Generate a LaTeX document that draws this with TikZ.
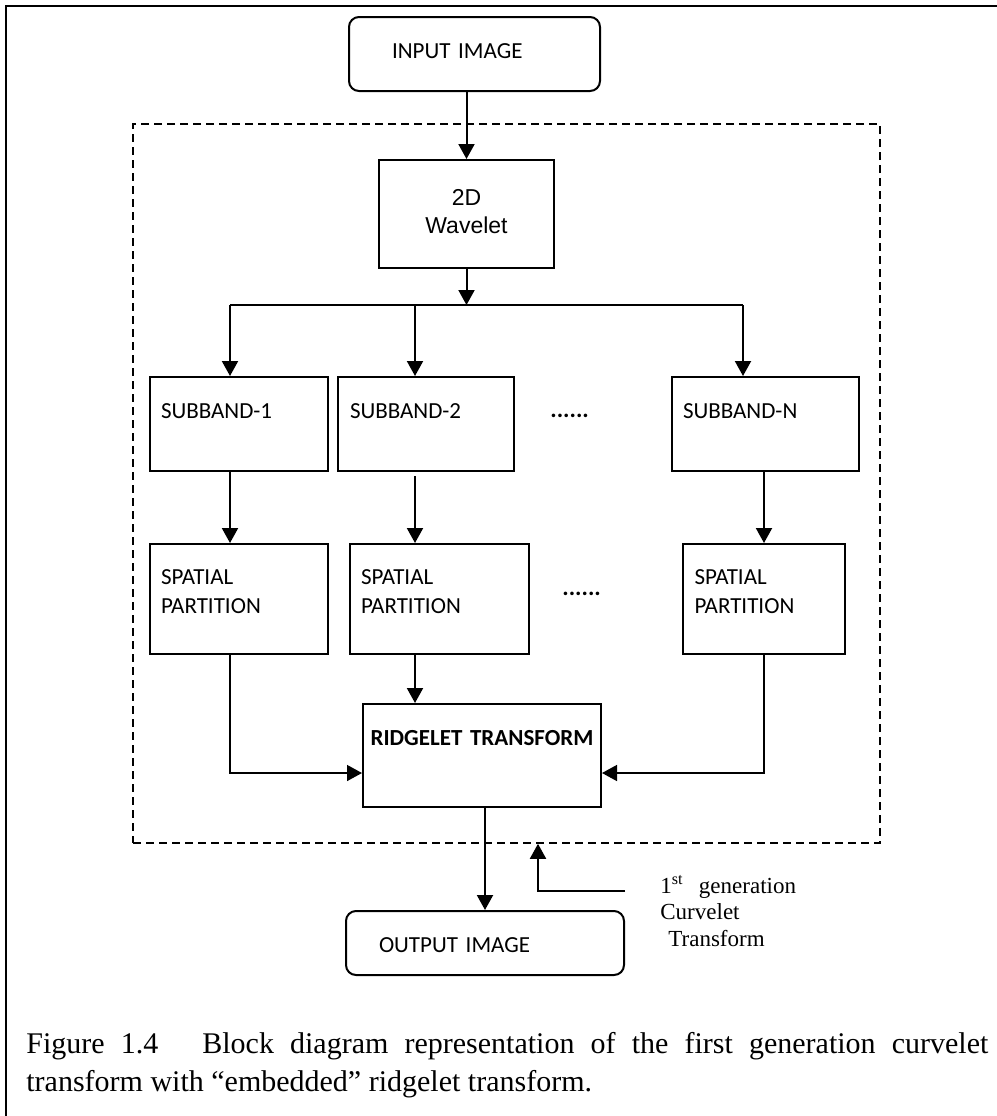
\documentclass[tikz,border=0pt]{standalone}
\usepackage{fontspec}
\setmainfont{Liberation Serif}
\newfontfamily\calibri{Carlito}
\newfontfamily\arialfont{Liberation Sans}
\usetikzlibrary{arrows.meta}

\begin{document}
\begin{tikzpicture}[x=0.5pt, y=-0.5pt]

%STYLE SETTINGS
\tikzstyle{block}=[draw, line width=1pt, inner ysep=0pt, inner xsep=5.5pt, align=left, font=\calibri\fontsize{11.5}{14.5}\selectfont]
\tikzstyle{subband}=[block, text height=20.5pt, text depth=26.5pt]
\tikzstyle{spatial}=[block, text height=20pt, text depth=35pt]
\tikzstyle{imagebox}=[block, rounded corners=5pt, text height=20.75pt]
\tikzstyle{arr}=[-{Triangle[width=8pt,length=7.5pt]}, line width=1pt]
\tikzstyle{dots}=[anchor=base west, inner sep=0pt, font=\calibri\bfseries\fontsize{12}{14}\selectfont]

\useasboundingbox (0,0) rectangle (997,1116);
\draw[line width=1.2pt] (997,6) -- (6,6) -- (6,1116);

%NODES
\node[imagebox, inner xsep=21.5pt, text width=82.5pt, text depth=16.25pt] (input) at (474.5,54) {INPUT IMAGE};
\node[draw, dash pattern=on 4pt off 2.5pt, line width=0.8pt, minimum width=373.5pt, minimum height=359.5pt, inner sep=0pt] (curvelet) at (506.5,483.5) {};
\node[block, align=center, inner xsep=0pt, text width=87.5pt, text height=22.5pt, text depth=31.5pt,
	font=\arialfont\fontsize{11.5}{14}\selectfont] (wavelet) at (466.5,214) {2D\\Wavelet};
	
\node[subband, text width=78pt] (sub1) at (239,424) {SUBBAND-1};
\node[subband, text width=76pt, inner xsep=6pt] (sub2) at (426,424) {SUBBAND-2};
\node[subband, text width=82.5pt] (subN) at (765.5,424) {SUBBAND-N};
\node[dots] (dots1) at (550,417) {......};

\node[spatial, text width=78pt] (sp1) at (239,599) {SPATIAL\\PARTITION};
\node[spatial, text width=78.5pt] (sp2) at (439.5,599) {SPATIAL\\PARTITION};
\node[spatial, text width=69.5pt, inner xsep=5.75pt] (spN) at (764,599) {SPATIAL\\PARTITION};
\node[dots] (dots2) at (562,595) {......};

\node[block, align=center, inner xsep=0pt, text width=119pt, text height=20.5pt, text depth=31pt,
	font=\calibri\bfseries\fontsize{11.5}{14}\selectfont] (ridge) at (482,755.5) {RIDGELET TRANSFORM};
\node[imagebox, inner xsep=16.5pt, text width=106pt, text depth=11.25pt] (output) at (485,943) {OUTPUT IMAGE};

\node[anchor=base west, inner sep=0pt, text width=80pt, align=left,
	font=\fontsize{11.5}{13.25}\selectfont] (cvlabel) at (660,893) {1\textsuperscript{st}~ generation\\Curvelet\\\hspace*{4pt}Transform};
\node[anchor=base west, inner sep=0pt, text width=481pt, align=justify,
	font=\fontsize{15}{19}\selectfont] (caption) at (26,1053) {Figure 1.4\hspace{22pt}Block diagram representation of the first generation curvelet\linebreak transform with “embedded” ridgelet transform.};

%CONNECTORS
\coordinate (split) at (466.5,305);
\coordinate (b1) at (230,305);
\coordinate (b2) at (415,305);
\coordinate (b3) at (743,305);
\coordinate (cvin) at (625,891);

\draw[arr] (input.south -| wavelet.north) -- (wavelet.north);
\draw[arr] (wavelet.south) -- (split);
\draw[line width=1pt] (b1) -- (b3);
\draw[arr] (b1) -- (b1 |- sub1.north);
\draw[arr] (b2) -- (b2 |- sub2.north);
\draw[arr] (b3) -- (b3 |- subN.north);

\draw[arr] (b1 |- sub1.south) -- (b1 |- sp1.north);
\draw[arr] ([yshift=-2pt]b2 |- sub2.south) -- (b2 |- sp2.north);
\draw[arr] (spN.north |- subN.south) -- (spN.north);

\draw[arr, line width=0.75pt] (b1 |- sp1.south) |- ([yshift=-8.75pt]ridge.west);
\draw[arr] (b2 |- sp2.south) -- (b2 |- ridge.north);
\draw[arr, line width=0.75pt] (spN.south) |- ([yshift=-8.75pt]ridge.east);

\draw[arr] (ridge.south -| output.north) -- (output.north);
\draw[arr] (cvin) -| ([xshift=15.75pt]curvelet.south);

\end{tikzpicture}
\end{document}
